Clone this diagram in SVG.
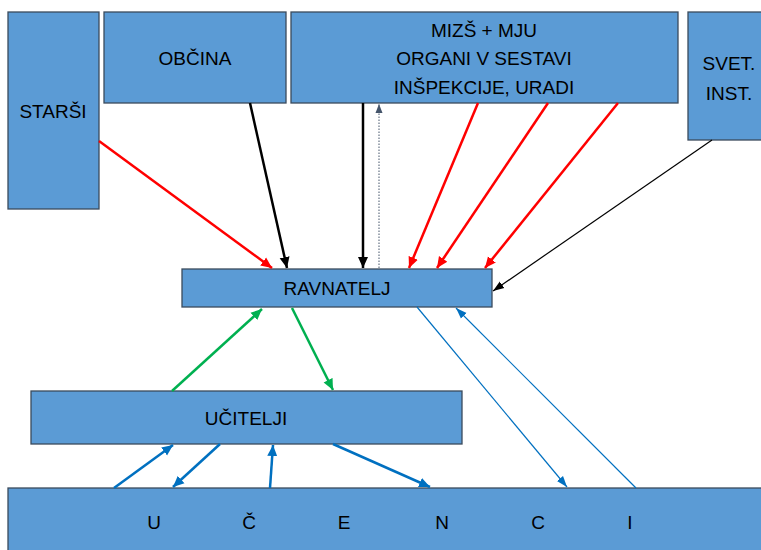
<svg xmlns="http://www.w3.org/2000/svg" width="761" height="550" viewBox="0 0 761 550">
<style>
.box{fill:#5B9BD5;stroke:#3B4B5C;stroke-width:1.3}
.t{font-family:"Liberation Sans",Arial,sans-serif;font-size:19px;fill:#000;text-anchor:middle;dominant-baseline:central}
.red{stroke:#FF0000;stroke-width:2.5;fill:none}
.blk{stroke:#000;stroke-width:2.5;fill:none}
.blkthin{stroke:#000;stroke-width:1.2;fill:none}
.grn{stroke:#00B050;stroke-width:2.5;fill:none}
.blu{stroke:#0070C0;stroke-width:2.5;fill:none}
.bluthin{stroke:#0070C0;stroke-width:1.2;fill:none}
.dot{stroke:#44546A;stroke-width:1;stroke-dasharray:1.5 1.5;fill:none}
</style>
<defs>
<marker id="mRed" markerUnits="userSpaceOnUse" markerWidth="12" markerHeight="12" viewBox="0 0 12 12" refX="11" refY="6" orient="auto"><path d="M0,1 L11,6 L0,11 Z" fill="#FF0000"/></marker>
<marker id="mBlk" markerUnits="userSpaceOnUse" markerWidth="12" markerHeight="12" viewBox="0 0 12 12" refX="11" refY="6" orient="auto"><path d="M0,1 L11,6 L0,11 Z" fill="#000"/></marker>
<marker id="mBlkThin" markerUnits="userSpaceOnUse" markerWidth="12" markerHeight="12" viewBox="0 0 12 12" refX="11" refY="6" orient="auto"><path d="M0,2 L11,6 L0,10 Z" fill="#000"/></marker>
<marker id="mGrn" markerUnits="userSpaceOnUse" markerWidth="12" markerHeight="12" viewBox="0 0 12 12" refX="11" refY="6" orient="auto"><path d="M0,1 L11,6 L0,11 Z" fill="#00B050"/></marker>
<marker id="mBlu" markerUnits="userSpaceOnUse" markerWidth="12" markerHeight="12" viewBox="0 0 12 12" refX="11" refY="6" orient="auto"><path d="M0,1 L11,6 L0,11 Z" fill="#0070C0"/></marker>
<marker id="mBluThin" markerUnits="userSpaceOnUse" markerWidth="12" markerHeight="12" viewBox="0 0 12 12" refX="11" refY="6" orient="auto"><path d="M0,2 L11,6 L0,10 Z" fill="#0070C0"/></marker>
<marker id="mDot" markerUnits="userSpaceOnUse" markerWidth="10" markerHeight="10" viewBox="0 0 10 10" refX="9" refY="5" orient="auto"><path d="M0,1.5 L9,5 L0,8.5 Z" fill="#44546A"/></marker>
</defs>
<rect width="761" height="550" fill="#fff"/>
<g id="starsi"><rect class="box" x="8" y="12" width="91" height="197"/><text class="t" x="53" y="111">STARŠI</text></g>
<g id="obcina"><rect class="box" x="104" y="12" width="182" height="91"/><text class="t" x="195" y="58">OBČINA</text></g>
<g id="mizs"><rect class="box" x="291" y="12" width="387" height="91"/><text class="t" x="484" y="30">MIZŠ + MJU</text><text class="t" x="484" y="58">ORGANI V SESTAVI</text><text class="t" x="484" y="87">INŠPEKCIJE, URADI</text></g>
<g id="svet"><rect class="box" x="688" y="12" width="82" height="128"/><text class="t" x="729" y="63">SVET.</text><text class="t" x="729" y="93">INST.</text></g>
<g id="ravnatelj"><rect class="box" x="182" y="269" width="310" height="38"/><text class="t" x="337" y="288">RAVNATELJ</text></g>
<g id="ucitelji"><rect class="box" x="31" y="391" width="431" height="53"/><text class="t" x="246" y="418">UČITELJI</text></g>
<g id="ucenci"><rect class="box" x="8" y="488" width="762" height="70"/>
<text class="t" x="154" y="522">U</text><text class="t" x="249" y="522">Č</text><text class="t" x="344" y="522">E</text><text class="t" x="442" y="522">N</text><text class="t" x="538" y="522">C</text><text class="t" x="630" y="522">I</text></g>
<g id="connectors">
<line class="red" x1="99" y1="141" x2="272" y2="268" marker-end="url(#mRed)"/>
<line class="blk" x1="250" y1="103" x2="287" y2="268" marker-end="url(#mBlk)"/>
<line class="blk" x1="363" y1="103" x2="363" y2="268" marker-end="url(#mBlk)"/>
<line class="dot" x1="379" y1="268" x2="379" y2="104" marker-end="url(#mDot)"/>
<line class="red" x1="478" y1="103" x2="409" y2="268" marker-end="url(#mRed)"/>
<line class="red" x1="548" y1="103" x2="437" y2="268" marker-end="url(#mRed)"/>
<line class="red" x1="618" y1="103" x2="485" y2="268" marker-end="url(#mRed)"/>
<line class="blkthin" x1="712" y1="140" x2="493" y2="291" marker-end="url(#mBlkThin)"/>
<line class="grn" x1="172" y1="391" x2="262" y2="309" marker-end="url(#mGrn)"/>
<line class="grn" x1="292" y1="308" x2="333" y2="390" marker-end="url(#mGrn)"/>
<line class="blu" x1="114" y1="488" x2="173" y2="445" marker-end="url(#mBlu)"/>
<line class="blu" x1="220" y1="444" x2="173" y2="487" marker-end="url(#mBlu)"/>
<line class="blu" x1="270" y1="488" x2="273" y2="445" marker-end="url(#mBlu)"/>
<line class="blu" x1="333" y1="444" x2="430" y2="487" marker-end="url(#mBlu)"/>
<line class="bluthin" x1="417" y1="307" x2="567" y2="487" marker-end="url(#mBluThin)"/>
<line class="bluthin" x1="636" y1="488" x2="456" y2="308" marker-end="url(#mBluThin)"/>
</g>
</svg>
